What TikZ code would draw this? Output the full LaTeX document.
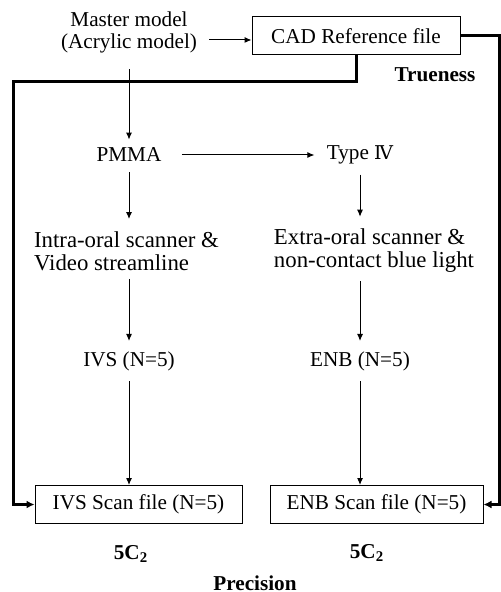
\documentclass[tikz,border=0pt]{standalone}
\usepackage{fontspec}
\setmainfont{Liberation Serif}
\newfontfamily\romfont{DejaVu Serif}
\usetikzlibrary{arrows.meta}
\begin{document}
\begin{tikzpicture}[x=0.5pt,y=-0.5pt,
        font=\fontsize{10.6}{11}\selectfont,
        txt/.style={align=center,inner sep=1pt},
        scantxt/.style={align=left,inner sep=1pt,font=\fontsize{11.4}{11.5}\selectfont},
        filebox/.style={draw,line width=0.5pt,minimum height=19pt,inner sep=0pt},
        arr/.style={line width=0.5pt,-{Latex[length=3.5pt,width=3pt]}},
        thkarr/.style={line width=1.5pt,-{Latex[length=4pt,width=4pt]}}]
        \useasboundingbox (0,0) rectangle (501,592);
        %% top row
        \node[txt] (master) at (129,32) {Master model\\(Acrylic model)};
        \node[filebox,minimum width=104pt] (cad) at (356,36) {CAD Reference file};
        \node[txt,font=\fontsize{10.6}{11}\selectfont\bfseries] (true) at (435,75) {Trueness};
        %% materials
        \node[txt] (pmma) at (129,155) {PMMA};
        \node[txt] (type4) at (360,155) {Type {\romfont\fontsize{9.5}{11}\selectfont Ⅳ}};
        %% scanners
        \node[scantxt] (ios) at (126.5,251) {Intra-oral scanner \&\\Video streamline};
        \node[scantxt] (eos) at (374,251) {Extra-oral scanner \&\\non-contact blue light};
        \node[txt] (ivs) at (129,361) {IVS (N=5)};
        \node[txt] (enb) at (360,361) {ENB (N=5)};
        %% scan files
        \node[filebox,minimum width=103.5pt] (ivsf) at (138.5,504.5) {IVS Scan file (N=5)};
        \node[filebox,minimum width=106.5pt] (enbf) at (376.5,504.5) {ENB Scan file (N=5)};
        \node[txt,font=\fontsize{10.6}{11}\selectfont\bfseries] (comb1) at (131,554) {5C\textsubscript{2}};
        \node[txt,font=\fontsize{10.6}{11}\selectfont\bfseries] (comb2) at (367,553) {5C\textsubscript{2}};
        \node[txt,font=\fontsize{10.6}{11}\selectfont\bfseries] (prec) at (255,583) {Precision};
        %% thin arrows
        \draw[arr] ([xshift=5pt,yshift=-2pt]master.east |- cad.west) -- ([yshift=-2pt]cad.west);
        \draw[arr,shorten <=7pt,shorten >=3pt] (master.south) -- (pmma.north);
        \draw[arr,shorten <=9pt,shorten >=5pt] (pmma.east) -- (type4.west);
        \draw[arr,shorten <=4pt,shorten >=5pt] (pmma.south) -- (pmma.south |- ios.north);
        \draw[arr,shorten <=4pt,shorten >=5pt] (type4.south) -- (type4.south |- eos.north);
        \draw[arr,shorten <=3pt,shorten >=4pt] (ivs.north |- ios.south) -- (ivs.north);
        \draw[arr,shorten <=3pt,shorten >=4pt] (enb.north |- eos.south) -- (enb.north);
        \draw[arr,shorten <=4pt] (ivs.south) -- (ivs.south |- ivsf.north);
        \draw[arr,shorten <=4pt] (enb.south) -- (enb.south |- enbf.north);
        %% thick reference lines
        \coordinate (lcorner) at (13,82);
        \coordinate (rcorner) at (499,504.5);
        \draw[thkarr] (cad.south) |- (lcorner) -- (lcorner |- ivsf.west) -- (ivsf.west);
        \draw[thkarr] (cad.east) -| (rcorner) -- (enbf.east);
    \end{tikzpicture}
\end{document}
